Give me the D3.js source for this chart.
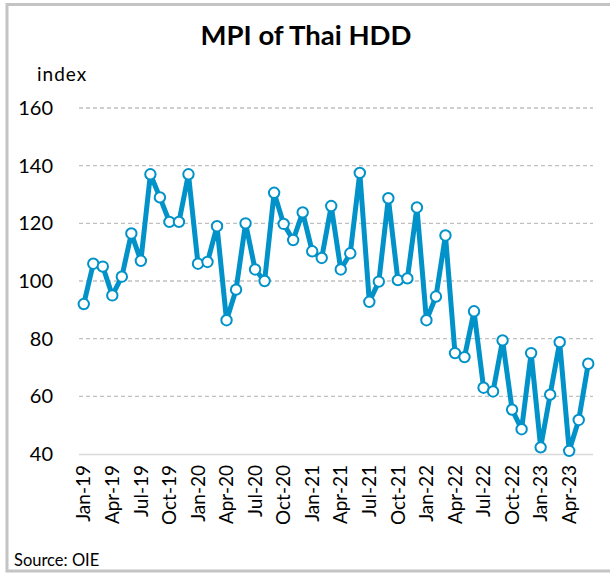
<!DOCTYPE html>
<html><head><meta charset="utf-8">
<script src="https://cdn.jsdelivr.net/npm/d3@7"></script>
<style>body{margin:0;background:#fff}svg{display:block}</style>
</head><body>
<svg id="c" width="610" height="573"></svg>
<script>
const months = ["Jan","Feb","Mar","Apr","May","Jun","Jul","Aug","Sep","Oct","Nov","Dec"];
const years = ["19","20","21","22","23"];
const categories = [];
years.forEach(y => months.forEach(m => categories.push(m + "-" + y)));
categories.length = 54;
const values = [
  92, 106, 105, 95, 101.5, 116.5, 107, 137, 129, 120.5, 120.5, 137,
  106, 106.6, 119, 86.4, 97, 120, 104, 100, 130.6, 119.8, 114.2, 123.8,
  110.3, 108, 126, 104, 109.6, 137.5, 92.8, 99.8, 128.7, 100.3, 100.9, 125.5,
  86.4, 94.6, 115.8, 75, 73.6, 89.5, 63, 61.7, 79.4, 55.4, 48.6, 75,
  42.3, 60.6, 78.8, 41.1, 51.8, 71.3
];
const yTicks = [40, 60, 80, 100, 120, 140, 160];
const xLabelMonths = ["Jan","Apr","Jul","Oct"];

const svg = d3.select("#c");
const font = "Lato, 'Open Sans', sans-serif";
// frame
svg.append("rect").attr("x",7).attr("y",4.5).attr("width",610).attr("height",566.5)
  .attr("fill","none").attr("stroke","#c4c4c4").attr("stroke-width",3);

const x = d3.scaleBand().domain(categories).range([79, 593]);
const y = d3.scaleLinear().domain([40, 160]).range([454, 108]);

// grid
svg.append("g").selectAll("line").data(yTicks.filter(t => t > 40)).join("line")
  .attr("x1", 79).attr("x2", 593).attr("y1", d => y(d)).attr("y2", d => y(d))
  .attr("stroke", "#c0c0c0").attr("stroke-width", 1.3).attr("stroke-dasharray", "4,3");
svg.append("line").attr("x1",79).attr("x2",593).attr("y1",y(40)+0.5).attr("y2",y(40)+0.5)
  .attr("stroke","#d9d9d9").attr("stroke-width",1.5);

// y labels
svg.append("g").selectAll("text").data(yTicks).join("text")
  .attr("x", 53).attr("y", d => y(d)).attr("dy", "0.35em").attr("text-anchor","end")
  .attr("font-family", font).attr("font-size", 20).attr("fill","#000").text(d => d);

// x labels
svg.append("g").selectAll("text")
  .data(categories.filter(c => xLabelMonths.includes(c.slice(0,3))))
  .join("text")
  .attr("transform", d => `translate(${x(d) + x.bandwidth()/2},465) rotate(-90)`)
  .attr("dy","0.35em").attr("text-anchor","end")
  .attr("font-family", font).attr("font-size", 19).attr("fill","#000").text(d => d);

// line
const pts = categories.map((c,i) => ({c, v: values[i]}));
svg.append("path").datum(pts)
  .attr("d", d3.line().x(d => x(d.c) + x.bandwidth()/2).y(d => y(d.v)))
  .attr("fill","none").attr("stroke","#0092c8").attr("stroke-width",5).attr("stroke-linejoin","round");
svg.append("g").selectAll("circle").data(pts).join("circle")
  .attr("cx", d => x(d.c) + x.bandwidth()/2).attr("cy", d => y(d.v)).attr("r", 5.2)
  .attr("fill","#fff").attr("stroke","#0092c8").attr("stroke-width",2);

// title etc
svg.append("text").attr("x",306).attr("y",45).attr("text-anchor","middle")
  .attr("font-family", font).attr("font-weight","bold").attr("font-size",27.5).text("MPI of Thai HDD");
svg.append("text").attr("x",37).attr("y",81).attr("letter-spacing",1)
  .attr("font-family", font).attr("font-size",19).text("index");
svg.append("text").attr("x",14).attr("y",566)
  .attr("font-family", font).attr("font-size",16.5).text("Source: OIE");
</script>
</body></html>
